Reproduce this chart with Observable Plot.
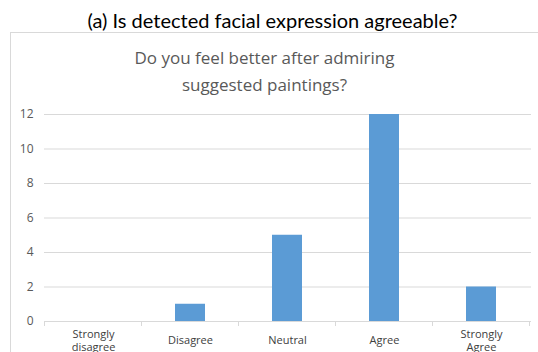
<!DOCTYPE html>
<html>
<head>
<meta charset="utf-8">
<script src="https://cdn.jsdelivr.net/npm/d3@7"></script>
<script src="https://cdn.jsdelivr.net/npm/@observablehq/plot@0.6"></script>
<style>
  html, body { margin: 0; padding: 0; background: #fff; }
  #wrap { position: relative; width: 538px; height: 352px; overflow: hidden; background: #fff; }
  #box { position: absolute; left: 10px; top: 32px; width: 600px; height: 400px; border-left: 1.5px solid #d9d9d9; border-top: 1.5px solid #d9d9d9; }
  #outer { position: absolute; left: 0; width: 545px; top: 7px; text-align: center; font-family: Lato, sans-serif; font-size: 20px; color: #000; line-height: 26px; }
  #inner { position: absolute; left: 0; width: 529px; top: 44px; text-align: center; font-family: "Open Sans", sans-serif; font-size: 17px; color: #595959; line-height: 27px; }
  #chart { position: absolute; left: 0; top: 0; }
</style>
</head>
<body>
<div id="wrap">
  <div id="box"></div>
  <div id="outer">(a) Is detected facial expression agreeable?</div>
  <div id="inner">Do you feel better after admiring<br>suggested paintings?</div>
  <div id="chart"></div>
</div>
<script>
const categories = ["Strongly disagree", "Disagree", "Neutral", "Agree", "Strongly Agree"];
const categoryLabels = ["Strongly\ndisagree", "Disagree", "Neutral", "Agree", "Strongly\nAgree"];
const counts = [0, 1, 5, 12, 2];
const yTicks = [0, 2, 4, 6, 8, 10, 12];

const data = categories.map((c, i) => ({category: c, label: categoryLabels[i], count: counts[i]}));

function bandEdges(index, scales, values, dimensions) {
  const x = scales.x;
  const y = scales.y;
  const step = x.step();
  const off = (step - x.bandwidth()) / 2;
  const domain = x.domain();
  const edges = domain.map(d => x(d) - off);
  edges.push(x(domain[domain.length - 1]) + x.bandwidth() + off);
  const g = d3.create("svg:g");
  const y0 = y(0);
  g.selectAll("line").data(edges).join("line")
    .attr("x1", d => d).attr("x2", d => d)
    .attr("y1", y0).attr("y2", y0 + 5)
    .attr("stroke", "#d9d9d9").attr("stroke-width", 1);
  return g.node();
}

const chart = Plot.plot({
  width: 538,
  height: 352,
  marginTop: 114,
  marginBottom: 31,
  marginLeft: 44,
  marginRight: 7,
  style: {background: "transparent", fontFamily: "'Open Sans', sans-serif"},
  x: {domain: categories, paddingInner: 0.69, paddingOuter: 0.345, align: 0.5, axis: null},
  y: {domain: [0, 12], axis: null},
  marks: [
    Plot.gridY(yTicks, {stroke: "#d9d9d9", strokeOpacity: 1, strokeWidth: 1}),
    Plot.axisY(yTicks, {tickSize: 0, tickPadding: 11, fontSize: 12, fill: "#595959", label: null}),
    Plot.barY(data, {x: "category", y: "count", fill: "#5b9bd5"}),
    Plot.ruleY([0], {stroke: "#d9d9d9", strokeWidth: 1}),
    bandEdges,
    Plot.text(data, {x: "category", text: "label", frameAnchor: "bottom", dy: 19, lineAnchor: "middle", fontSize: 11, fill: "#404040", lineHeight: 1.12})
  ]
});
document.getElementById("chart").appendChild(chart);
</script>
</body>
</html>
